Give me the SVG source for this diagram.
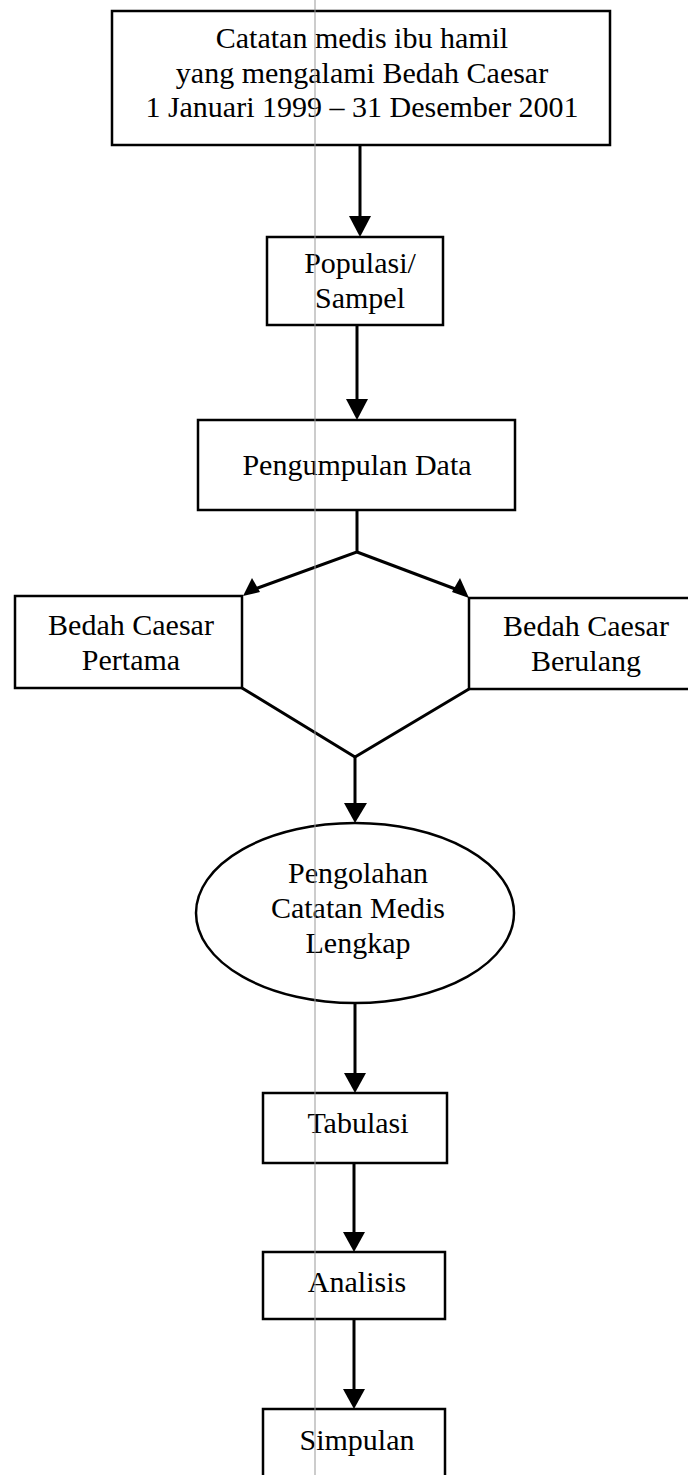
<svg xmlns="http://www.w3.org/2000/svg" width="688" height="1475" viewBox="0 0 688 1475">
<style>
.box{fill:#fff;stroke:#000;stroke-width:2.5}
.t{font-family:"Liberation Serif","Times New Roman",serif;font-size:30px;fill:#000;text-anchor:middle}
.c{stroke:#000;stroke-width:3;fill:none}
.h{fill:#000;stroke:none}
</style>
<rect width="688" height="1475" fill="#fff"/>
<g id="n1"><rect class="box" x="112" y="11" width="498" height="134"/>
<text class="t" x="362" y="48">Catatan medis ibu hamil</text>
<text class="t" x="362" y="83">yang mengalami Bedah Caesar</text>
<text class="t" x="362" y="117">1 Januari 1999 – 31 Desember 2001</text></g>
<g id="n2"><rect class="box" x="267" y="237" width="176" height="88"/>
<text class="t" x="360" y="273">Populasi/</text>
<text class="t" x="360" y="308">Sampel</text></g>
<g id="n3"><rect class="box" x="198" y="420" width="317" height="90"/>
<text class="t" x="357" y="475">Pengumpulan Data</text></g>
<g id="n4"><rect class="box" x="15" y="596" width="227" height="92"/>
<text class="t" x="131" y="635">Bedah Caesar</text>
<text class="t" x="131" y="670">Pertama</text></g>
<g id="n5"><rect class="box" x="469" y="598" width="240" height="91"/>
<text class="t" x="586" y="636">Bedah Caesar</text>
<text class="t" x="586" y="671">Berulang</text></g>
<g id="n6"><ellipse class="box" cx="355" cy="913" rx="159" ry="90"/>
<text class="t" x="358" y="883">Pengolahan</text>
<text class="t" x="358" y="918">Catatan Medis</text>
<text class="t" x="358" y="953">Lengkap</text></g>
<g id="n7"><rect class="box" x="263" y="1093" width="184" height="70"/>
<text class="t" x="358" y="1133">Tabulasi</text></g>
<g id="n8"><rect class="box" x="263" y="1252" width="182" height="67"/>
<text class="t" x="357" y="1292">Analisis</text></g>
<g id="n9"><rect class="box" x="263" y="1409" width="182" height="80"/>
<text class="t" x="357" y="1450">Simpulan</text></g>
<g id="connectors">
<line class="c" x1="360" y1="145" x2="360" y2="218"/>
<polygon class="h" points="349,216 371,216 360,237"/>
<line class="c" x1="357" y1="325" x2="357" y2="401"/>
<polygon class="h" points="346,399 368,399 357,420"/>
<polyline class="c" points="357,510 357,552 255,589"/>
<polygon class="h" points="243,596 252,578 260,592"/>
<line class="c" x1="357" y1="552" x2="458" y2="590"/>
<polygon class="h" points="469,598 452,592 460,578"/>
<polyline class="c" points="242,688 355,757 469,689"/>
<line class="c" x1="355" y1="757" x2="355" y2="805"/>
<polygon class="h" points="344,803 367,803 355,823"/>
<line class="c" x1="355" y1="1003" x2="355" y2="1075"/>
<polygon class="h" points="344,1073 366,1073 355,1093"/>
<line class="c" x1="354" y1="1163" x2="354" y2="1234"/>
<polygon class="h" points="343,1232 365,1232 354,1252"/>
<line class="c" x1="354" y1="1319" x2="354" y2="1391"/>
<polygon class="h" points="343,1389 365,1389 354,1409"/>
</g>
<line x1="315" y1="0" x2="315" y2="1475" stroke="#999" stroke-width="1"/>
</svg>
